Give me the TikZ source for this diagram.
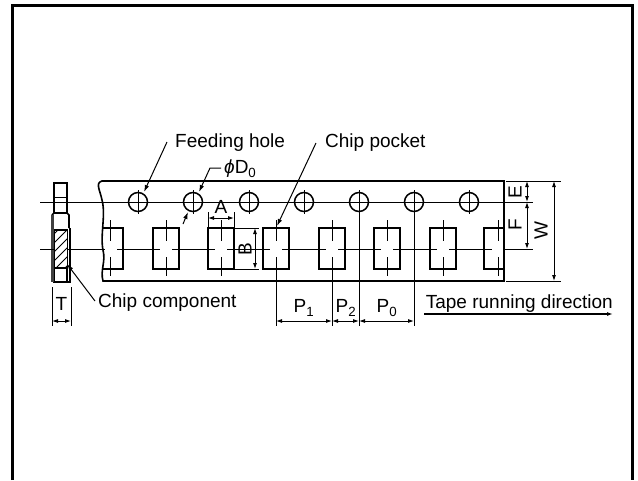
\documentclass[tikz,border=0pt]{standalone}
\usepackage{fontspec}
\setmainfont{Liberation Sans}
\usepackage{tikz}
\usetikzlibrary{arrows.meta,patterns}
\tikzset{
    dim/.style={line width=.9pt,{Latex[length=6pt,width=4pt]}-{Latex[length=6pt,width=4pt]}},
    lead/.style={line width=1pt,-{Latex[length=7pt,width=4.5pt]}},
    edge/.style={line width=1.6pt},
    thinline/.style={line width=1pt},
    lbl/.style={inner sep=0pt,font=\fontsize{19}{19}\selectfont}
}
\begin{document}
\begin{tikzpicture}[x=1pt,y=-1pt]
\useasboundingbox (0,0) rectangle (638,480);
\draw[line width=3pt] (12,480) -- (12,5.5) -- (632,5.5) -- (632,480);

% tape outline
\draw[edge] (103,281) .. controls (100,270) and (106,262) .. (103,250)
    .. controls (100,235) and (106,215) .. (102,200)
    .. controls (100,190) and (95,183) .. (102,181) -- (504,181) -- (504,281) -- cycle;

% center lines
\draw[thinline] (40,202) -- (533,202);
\draw[thinline] (40,249) -- (533,249);

% holes
\foreach \i/\x in {1/138,2/193,3/249,4/304,5/359,6/414,7/469}{
    \node[circle,draw,fill=white,line width=1.5pt,minimum size=19pt,inner sep=0pt] (hole\i) at (\x,202) {};
    \draw[thinline] (\x,190) -- (\x,214);
    \draw[thinline] (\x-11,202) -- (\x+11,202);
}

% pockets
\foreach \i/\x in {2/166,3/221,4/276,5/332,6/387,7/443}{
    \node[draw,fill=white,line width=1.5pt,minimum width=26pt,minimum height=41pt,inner sep=0pt] (pocket\i) at (\x,248.5) {};
    \draw[thinline] (\x,220) -- (\x,241) (\x,257) -- (\x,276);
    \draw[thinline] (\x-13,249) -- (\x-6,249) (\x+6,249) -- (\x+13,249);
}
\fill[white] (105,229) rectangle (122,268);
\draw[edge] (103,228) -- (123,228) -- (123,269) -- (103,269);
\draw[thinline] (110,220) -- (110,241) (110,257) -- (110,276);
\draw[thinline] (117,249) -- (123,249);
\fill[white] (485,229) rectangle (503,268);
\draw[edge] (504,228) -- (484,228) -- (484,269) -- (504,269);
\draw[thinline] (498,220) -- (498,241) (498,257) -- (498,276);
\draw[thinline] (484,249) -- (492,249);

% side view
\draw[edge] (54,213) -- (54,183) -- (67,183) -- (67,213);
\draw[thinline] (54,197) -- (67,197);
\draw[edge] (52,215) -- (54,213) -- (67,213) -- (69,215) -- (69,228);
\draw[edge] (67,230) -- (67,282) -- (54,282) -- (54,230) -- cycle;
\draw[edge] (54,268) -- (67,268);
\fill[black!75] (51,215) rectangle (54,282);
\draw[edge] (70,228) -- (70,282) -- (67,282);
\draw[fill=white,thinline] (54,230) rectangle (67,267);
\begin{scope}
\clip (54,230) rectangle (67,267);
\foreach \d in {0,9,...,54}{
    \draw[thinline] (48,240+\d) -- (72,216+\d);
}
\end{scope}
\draw[thinline] (40,249) -- (54,249) (67,249) -- (74,249);
\draw[thinline] (40,202) -- (74,202);

% T dimension
\coordinate (t1) at (52,287);
\coordinate (t2) at (71,287);
\coordinate (t1b) at (52,326);
\coordinate (t2b) at (71,326);
\draw[thinline] (t1) -- (t1b) (t2) -- (t2b);
\draw[dim] (52,321) -- (71,321);
\node[lbl] (labT) at (61.5,304) {T};

% leaders
\node[lbl,anchor=west] (feedlabel) at (175,143) {Feeding hole};
\node[lbl,anchor=west] (pocketlabel) at (325,143) {Chip pocket};
\node[lbl,anchor=west] (dialabel) at (224,169) {\textit{ϕ}D\textsubscript{0}};
\node[lbl,anchor=west] (chiplabel) at (98,303) {Chip component};
\coordinate (feedend) at (167,142);
\coordinate (pocketend) at (316,143);
\draw[lead] (feedend) -- (144,192);
\draw[lead] (pocketend) -- (277,226);
\draw[lead] (221,168) -- (210,168) -- (199,192);
\draw[lead] (183,224) -- (188,212);
\draw[lead] (95,301) -- (67,264);

% A and B
\draw[thinline] (208,212) -- (208,228) (234,212) -- (234,228);
\draw[dim] (208,218) -- (234,218);
\node[lbl] (labA) at (221,207) {A};
\draw[thinline] (234,228) -- (259,228) (234,269) -- (259,269);
\draw[dim] (255,228) -- (255,269);
\node[lbl,rotate=90] (labB) at (245,249) {B};

% pitch
\draw[thinline] (276,257) -- (276,326);
\draw[thinline] (332,257) -- (332,326);
\draw[thinline] (359,190) -- (359,326);
\draw[thinline] (414,190) -- (414,326);
\draw[dim] (276,321) -- (332,321);
\draw[dim] (332,321) -- (359,321);
\draw[dim] (359,321) -- (414,321);
\node[lbl] (labPa) at (304,308) {P\textsubscript{1}};
\node[lbl] (labPb) at (346,308) {P\textsubscript{2}};
\node[lbl] (labPc) at (387,308) {P\textsubscript{0}};

% right side
\draw[thinline] (506,181) -- (561,181) (506,281) -- (561,281);
\draw[dim] (527,181) -- (527,202);
\draw[dim] (527,202) -- (527,249);
\draw[dim] (554,181) -- (554,281);
\node[lbl,rotate=90] (labE) at (515,192) {E};
\node[lbl,rotate=90] (labF) at (515,225) {F};
\node[lbl,rotate=90] (labW) at (541,231) {W};

% direction
\node[lbl,anchor=east] (dirlabel) at (613,304) {Tape running direction};
\draw[line width=1.2pt,-{Latex[length=6pt,width=4pt]}] (424,314) -- (613,314);
\end{tikzpicture}
\end{document}
